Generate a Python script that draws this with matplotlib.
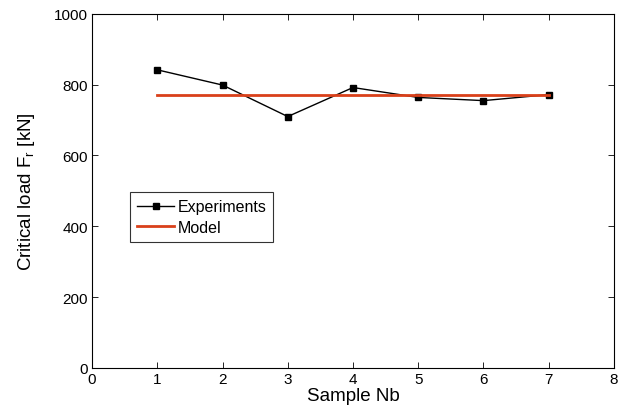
import matplotlib
matplotlib.use("Agg")
import matplotlib.pyplot as plt

plt.rcParams["font.family"] = ["Liberation Sans", "DejaVu Sans"]
plt.rcParams["mathtext.fontset"] = "custom"
plt.rcParams["mathtext.rm"] = "Liberation Sans"
plt.rcParams["mathtext.it"] = "Liberation Sans"

# data
samples = [1, 2, 3, 4, 5, 6, 7]
experiments = [842, 799, 710, 792, 764, 755, 772]
model_value = 770

fig = plt.figure(figsize=(6.22, 4.14), dpi=100)
ax = fig.add_axes([0.148, 0.109, 0.839, 0.855])

ax.plot(samples, experiments, color="black", linewidth=1.0, marker="s",
        markersize=5, label="Experiments")
ax.plot([samples[0], samples[-1]], [model_value, model_value], color="#d9401a",
        linewidth=2.0, label="Model")

ax.set_xlim(0, 8)
ax.set_ylim(0, 1000)
ax.set_xticks(range(0, 9))
ax.set_yticks(range(0, 1001, 200))
ax.tick_params(direction="in", top=True, right=True, labelsize=11, length=4,
               width=0.6, pad=3)
for s in ax.spines.values():
    s.set_linewidth(0.8)

ax.set_xlabel("Sample Nb", fontsize=13.5, labelpad=1)
ax.set_ylabel("Critical load F$_{\\rm r}$ [kN]", fontsize=13.5, labelpad=12)

leg = ax.legend(loc="upper left", bbox_to_anchor=(0.073, 0.497), fontsize=11.5,
                frameon=True, fancybox=False, edgecolor="black",
                handlelength=2.3, borderpad=0.45, labelspacing=0.35,
                handletextpad=0.2, borderaxespad=0)
leg.get_frame().set_linewidth(0.8)

fig.savefig("out.png", dpi=100)
